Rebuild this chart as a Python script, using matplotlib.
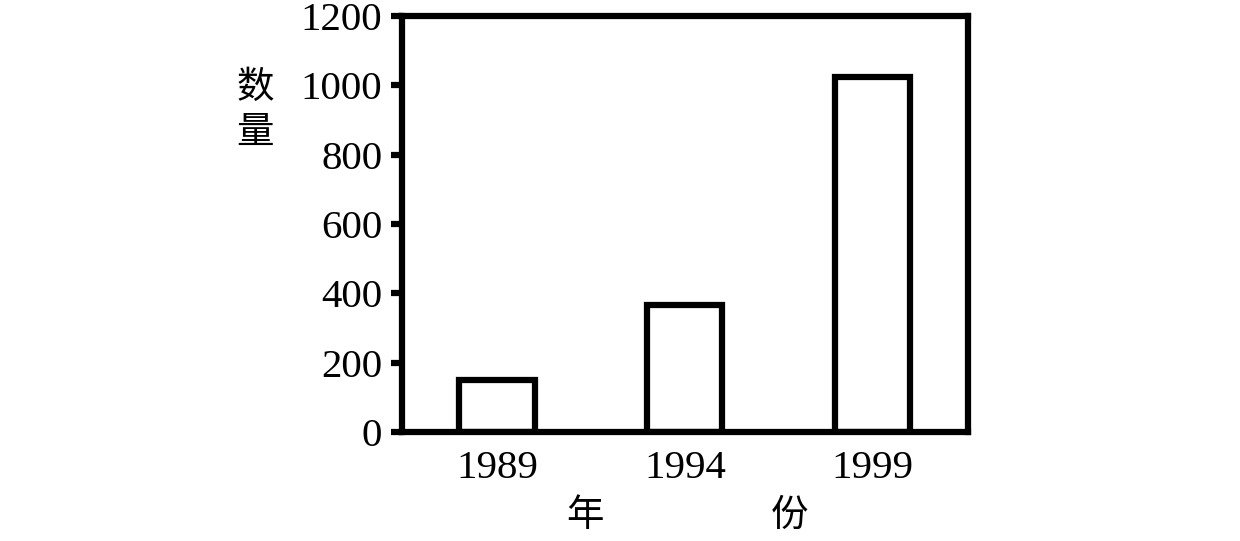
import matplotlib.pyplot as plt

years = ['1989', '1994', '1999']
counts = [150, 365, 1025]
yticks = [0, 200, 400, 600, 800, 1000, 1200]

plt.rcParams['font.family'] = ['Liberation Serif', 'Noto Sans CJK SC']

fig = plt.figure(figsize=(12.4, 5.41), dpi=100)
ax = fig.add_axes([0.324, 0.2015, 0.457, 0.769])

x = range(len(years))
ax.bar(x, counts, width=0.4, facecolor='white', edgecolor='black', linewidth=4.5)

ax.set_xlim(-0.507, 2.51)
ax.set_ylim(0, 1200)
ax.set_yticks(yticks)
ax.set_xticks(list(x))
ax.set_xticklabels(years)
ax.tick_params(axis='y', direction='out', length=8, width=4.5, labelsize=29.5, pad=6)
ax.tick_params(axis='x', length=0, labelsize=29.5, pad=13)
for s in ax.spines.values():
    s.set_linewidth(4.5)

# axis labels drawn as separate characters like the original
fig.text(0.206, 0.797, '数\n量', family='Noto Sans CJK SC', fontsize=27,
         ha='center', va='center', linespacing=1.2)
fig.text(0.472, 0.047, '年', family='Noto Sans CJK SC', fontsize=27, ha='center', va='center')
fig.text(0.637, 0.047, '份', family='Noto Sans CJK SC', fontsize=27, ha='center', va='center')

fig.savefig('out.png', dpi=100)
